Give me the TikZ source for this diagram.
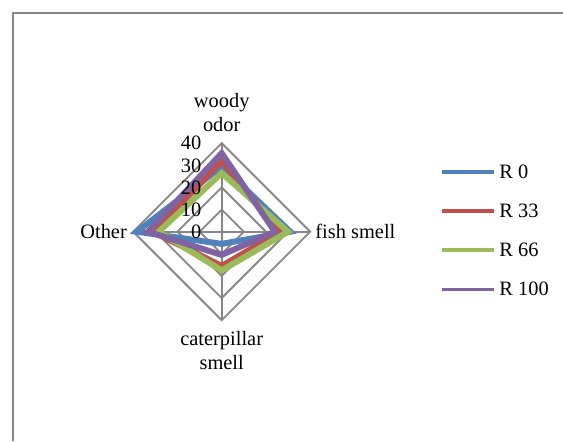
\documentclass[tikz,border=0pt]{standalone}
\usepackage{fontspec}
\setmainfont{Liberation Serif}
\usetikzlibrary{positioning}
\definecolor{framegray}{HTML}{868686}
\definecolor{rzero}{HTML}{4F81BD}
\definecolor{rthirty}{HTML}{C0504D}
\definecolor{rsixty}{HTML}{9BBB59}
\definecolor{rhundred}{HTML}{8064A2}
\tikzset{gridline/.style={draw=framegray,line width=0.9pt},
  series/.style={line width=3pt},
  keyline/.style={line width=1.8pt},
  lbl/.style={font=\fontsize{10.2}{12}\selectfont,inner sep=0pt,align=center}}

\begin{document}
\begin{tikzpicture}[x=0.5pt,y=0.5pt]
\useasboundingbox (0,0) rectangle (563,441);
\draw[framegray,line width=1.4pt] (13,0) -- (13,428) -- (563,428);

\begin{scope}[shift={(221.7,209.3)},x=11.06pt,y=11.06pt]
% grid
\draw[gridline] (0,1) -- (1,0) -- (0,-1) -- (-1,0) -- cycle;
\draw[gridline] (0,2) -- (2,0) -- (0,-2) -- (-2,0) -- cycle;
\draw[gridline] (0,3) -- (3,0) -- (0,-3) -- (-3,0) -- cycle;
\draw[gridline] (0,4) -- (4,0) -- (0,-4) -- (-4,0) -- cycle;
\draw[gridline] (0,0) -- (0,4);
\draw[gridline] (0,0) -- (4,0);
\draw[gridline] (0,0) -- (0,-4);
\draw[gridline] (0,0) -- (-4,0);

% series
\draw[series,rzero] (0,2.95) -- (3.1,0) -- (0,-0.55) -- (-3.83,0) -- cycle;
\draw[series,rthirty] (0,3.2) -- (2.65,0) -- (0,-1.55) -- (-3.12,0) -- cycle;
\draw[series,rsixty] (0,2.65) -- (3.0,0) -- (0,-1.75) -- (-2.85,0) -- cycle;
\draw[series,rhundred] (0,3.55) -- (2.4,0) -- (0,-1.05) -- (-3.33,0) -- cycle;

% tick labels
\node[lbl,anchor=east] (t0) at (-0.9,0) {0};
\node[lbl,anchor=east] (t10) at (-0.9,1) {10};
\node[lbl,anchor=east] (t20) at (-0.9,2) {20};
\node[lbl,anchor=east] (t30) at (-0.9,3) {30};
\node[lbl,anchor=east] (t40) at (-0.9,4) {40};

\node[lbl] (woody) at (0,5.39) {woody\\odor};
\node[lbl,anchor=west] (fish) at (4.22,0) {fish smell};
\node[lbl] (cater) at (0,-5.35) {caterpillar\\smell};
\node[lbl,anchor=east] (other) at (-4.27,0) {Other};
\end{scope}

% legend
\node[lbl,anchor=west] (k0) at (499,269.3) {R 0};
\node[lbl,anchor=west] (k33) at (499,230) {R 33};
\node[lbl,anchor=west] (k66) at (499,191) {R 66};
\node[lbl,anchor=west] (k100) at (499,151.7) {R 100};
\draw[keyline,rzero] ([xshift=-28.5pt]k0.west) -- ([xshift=-2.5pt]k0.west);
\draw[keyline,rthirty] ([xshift=-28.5pt]k33.west) -- ([xshift=-2.5pt]k33.west);
\draw[keyline,rsixty] ([xshift=-28.5pt]k66.west) -- ([xshift=-2.5pt]k66.west);
\draw[keyline,rhundred] ([xshift=-28.5pt]k100.west) -- ([xshift=-2.5pt]k100.west);
\end{tikzpicture}
\end{document}
